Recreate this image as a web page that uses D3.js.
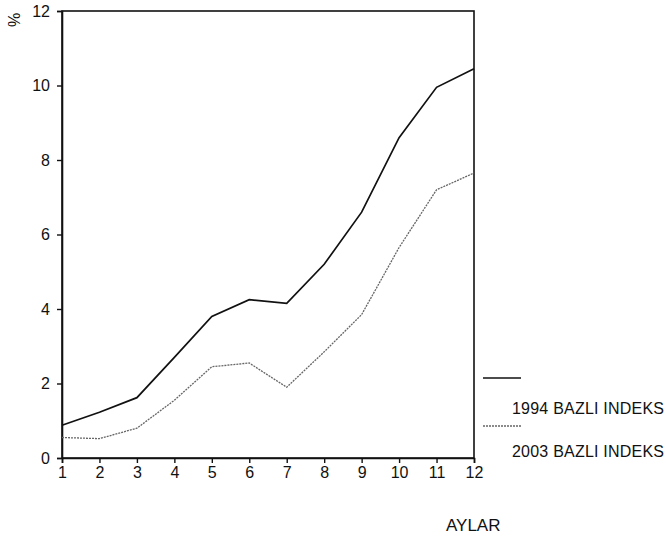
<!DOCTYPE html>
<html>
<head>
<meta charset="utf-8">
<script src="https://cdn.jsdelivr.net/npm/d3@7"></script>
<style>
body { margin: 0; background: #fff; }
text { font-family: "Liberation Sans", Arial, sans-serif; fill: #111; }
</style>
</head>
<body>
<svg id="chart" width="666" height="541"></svg>
<script>
// months on the x axis
var months = [1, 2, 3, 4, 5, 6, 7, 8, 9, 10, 11, 12];
var yTicks = [0, 2, 4, 6, 8, 10, 12];
var seriesNames = ["1994 BAZLI INDEKS", "2003 BAZLI INDEKS"];
var index1994 = [0.88, 1.23, 1.62, 2.7, 3.8, 4.25, 4.15, 5.2, 6.6, 8.6, 9.95, 10.45];
var index2003 = [0.55, 0.52, 0.8, 1.55, 2.45, 2.55, 1.9, 2.85, 3.85, 5.65, 7.2, 7.65];

var cfg = {
	left: 62, right: 474, top: 11, bottom: 458
};

var svg = d3.select("#chart");

var x = d3.scaleLinear().domain([1, 12]).range([cfg.left, cfg.right]);
var y = d3.scaleLinear().domain([0, 12]).range([cfg.bottom, cfg.top]);

// box
svg.append("rect")
	.attr("x", cfg.left).attr("y", cfg.top)
	.attr("width", cfg.right - cfg.left).attr("height", cfg.bottom - cfg.top)
	.attr("fill", "none").attr("stroke", "#111").attr("stroke-width", 1.6);

var xAxis = svg.append("g")
	.attr("transform", "translate(0," + cfg.bottom + ")")
	.call(d3.axisBottom(x).tickValues(months).tickSize(5).tickPadding(4).tickFormat(d3.format("d")));

var yAxis = svg.append("g")
	.attr("transform", "translate(" + cfg.left + ",0)")
	.call(d3.axisLeft(y).tickValues(yTicks).tickSize(5).tickPadding(7));

[xAxis, yAxis].forEach(function(g) {
	g.select(".domain").attr("stroke", "#111").attr("stroke-width", 1.6);
	g.selectAll(".tick line").attr("stroke", "#111").attr("stroke-width", 1.4);
	g.selectAll(".tick text")
		.style("font-family", "'Liberation Sans', Arial, sans-serif")
		.style("font-size", "16px").attr("fill", "#111");
});

var line = d3.line()
	.x(function(d, i) { return x(months[i]); })
	.y(function(d) { return y(d); });

svg.append("path").datum(index1994)
	.attr("d", line).attr("fill", "none")
	.attr("stroke", "#111").attr("stroke-width", 1.7);

svg.append("path").datum(index2003)
	.attr("d", line).attr("fill", "none")
	.attr("stroke", "#666").attr("stroke-width", 1.3)
	.attr("stroke-dasharray", "2,1");

// legend
var legend = [
	{ name: seriesNames[0], ly: 378, ty: 414, color: "#111", dash: null, w: 1.4 },
	{ name: seriesNames[1], ly: 426, ty: 457, color: "#666", dash: "2,1", w: 1.3 }
];
legend.forEach(function(l) {
	svg.append("line")
		.attr("x1", 483).attr("x2", 521).attr("y1", l.ly).attr("y2", l.ly)
		.attr("stroke", l.color).attr("stroke-width", l.w)
		.attr("stroke-dasharray", l.dash);
	svg.append("text")
		.attr("x", 512).attr("y", l.ty)
		.style("font-size", "16px")
		.attr("textLength", 152)
		.text(l.name);
});

svg.append("text")
	.attr("x", 446).attr("y", 531)
	.style("font-size", "17px")
	.text("AYLAR");

svg.append("text")
	.attr("transform", "translate(20,20) rotate(-90)")
	.attr("text-anchor", "middle")
	.style("font-size", "16px")
	.text("%");
</script>
</body>
</html>
